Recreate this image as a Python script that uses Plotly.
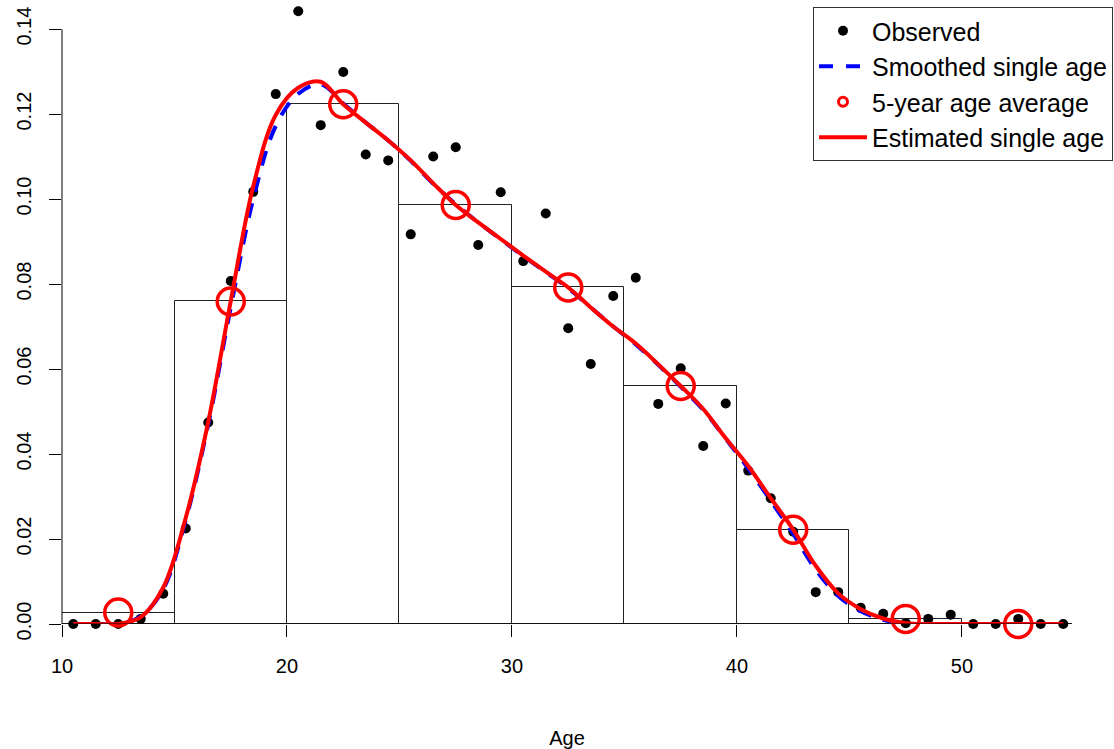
import plotly.graph_objects as go

# ---- data ----
ages = [10.5 + i for i in range(45)]
observed = [0, 0, 0, 0.0012, 0.0071, 0.0225, 0.0474, 0.0807, 0.1017, 0.1247,
            0.1442, 0.1174, 0.1299, 0.1105, 0.1091, 0.0917, 0.1100, 0.1122, 0.0892, 0.1016,
            0.0854, 0.0966, 0.0696, 0.0612, 0.0772, 0.0815, 0.0518, 0.0602, 0.0419, 0.0519,
            0.0361, 0.0296, 0.0217, 0.0075, 0.0075, 0.0038, 0.0024, 0.0002, 0.0012, 0.0022,
            0, 0, 0.0012, 0, 0]
smoothed = [0, 0, 0, 0.0018, 0.0082, 0.0245, 0.0470, 0.0745, 0.1000, 0.1172,
            0.1248, 0.1270, 0.1225, 0.1180, 0.1138, 0.1090, 0.1036, 0.0988, 0.0945, 0.0905,
            0.0866, 0.0828, 0.0790, 0.0745, 0.0700, 0.0658, 0.0610, 0.0558, 0.0504, 0.0436,
            0.0366, 0.0290, 0.0212, 0.0128, 0.0066, 0.0030, 0.0010, 0, 0, 0,
            0, 0, 0, 0, 0]
estimated = [0, 0, 0, 0.0016, 0.0086, 0.0250, 0.0476, 0.0760, 0.1030, 0.1198,
             0.1262, 0.1276, 0.1223, 0.1180, 0.1138, 0.1091, 0.1037, 0.0986, 0.0945, 0.0906,
             0.0867, 0.0829, 0.0792, 0.0745, 0.0700, 0.0660, 0.0611, 0.0560, 0.0506, 0.0437,
             0.0372, 0.0296, 0.0222, 0.0137, 0.0072, 0.0035, 0.0013, 0.0002, 0, 0,
             0, 0, 0, 0, 0]
group_mid = [12.5, 17.5, 22.5, 27.5, 32.5, 37.5, 42.5, 47.5, 52.5]
group_avg = [0.0027, 0.0759, 0.1223, 0.0986, 0.0792, 0.0560, 0.0222, 0.0012, 0.0]

x_ticks = [10, 20, 30, 40, 50]
y_ticks = [0, 0.02, 0.04, 0.06, 0.08, 0.10, 0.12, 0.14]

FONT = "Liberation Sans, Arial, sans-serif"

fig = go.Figure()

# histogram of 5-year averages
fig.add_trace(go.Bar(x=group_mid, y=group_avg, width=5,
                     marker=dict(color="rgba(0,0,0,0)", line=dict(color="#222", width=1)),
                     showlegend=False, hoverinfo="skip"))
# observed points
fig.add_trace(go.Scatter(x=ages, y=observed, mode="markers",
                         marker=dict(color="black", size=10), cliponaxis=False,
                         showlegend=False))
# smoothed single age
fig.add_trace(go.Scatter(x=ages, y=smoothed, mode="lines",
                         line=dict(color="blue", width=4, dash="15px,12px", shape="spline", smoothing=1),
                         showlegend=False))
# estimated single age
fig.add_trace(go.Scatter(x=ages, y=estimated, mode="lines",
                         line=dict(color="red", width=4, shape="spline", smoothing=1),
                         showlegend=False))
# 5-year average circles
fig.add_trace(go.Scatter(x=group_mid, y=group_avg, mode="markers",
                         marker=dict(symbol="circle-open", color="red", size=27, line=dict(width=3.5, color="red")),
                         cliponaxis=False, showlegend=False))

# legend-only entries
fig.add_trace(go.Scatter(x=[None], y=[None], mode="markers", name="Observed",
                         marker=dict(color="black", size=10)))
fig.add_trace(go.Scatter(x=[None], y=[None], mode="lines", name="Smoothed single age",
                         line=dict(color="blue", width=4, dash="14px,13px")))
fig.add_trace(go.Scatter(x=[None], y=[None], mode="markers", name="5-year age average",
                         marker=dict(symbol="circle-open", color="red", size=9, line=dict(width=3, color="red"))))
fig.add_trace(go.Scatter(x=[None], y=[None], mode="lines", name="Estimated single age",
                         line=dict(color="red", width=4)))

# baseline (y = 0) across the plot and the y axis line
fig.add_shape(type="line", xref="paper", yref="y", x0=0, x1=1, y0=0, y1=0,
              line=dict(color="black", width=1))
fig.add_shape(type="line", xref="paper", yref="y", x0=0, x1=0, y0=y_ticks[0], y1=y_ticks[-1],
              line=dict(color="black", width=1))

fig.update_layout(
    width=1114, height=749,
    margin=dict(l=62, r=42, t=7, b=125, autoexpand=False),
    plot_bgcolor="white", paper_bgcolor="white",
    font=dict(family=FONT, color="black", size=20),
    bargap=0,
    xaxis=dict(range=[10, 54.89], tickvals=x_ticks, ticks="outside", ticklen=12,
               tickcolor="black", showgrid=False, zeroline=False, showline=False,
               tickfont=dict(size=20, family=FONT), ticklabelstandoff=12, automargin=False,
               title=dict(text="Age", font=dict(size=20, family=FONT), standoff=58)),
    yaxis=dict(range=[0, 0.1452], tickvals=y_ticks, tickformat=".2f", ticks="outside",
               ticklen=12, tickcolor="black", showgrid=False, zeroline=False, showline=False,
               tickangle=-90, tickfont=dict(size=20, family=FONT), ticklabelstandoff=10,
               automargin=False),
    legend=dict(x=1.0406, xanchor="right", y=1, yanchor="top",
                bordercolor="#333", borderwidth=1, bgcolor="white",
                font=dict(size=25, family=FONT), itemwidth=48, tracegroupgap=0),
)

fig.write_html("out.html", config={"displayModeBar": False},
               post_script="document.body.style.margin='0';document.body.style.overflow='hidden';")
